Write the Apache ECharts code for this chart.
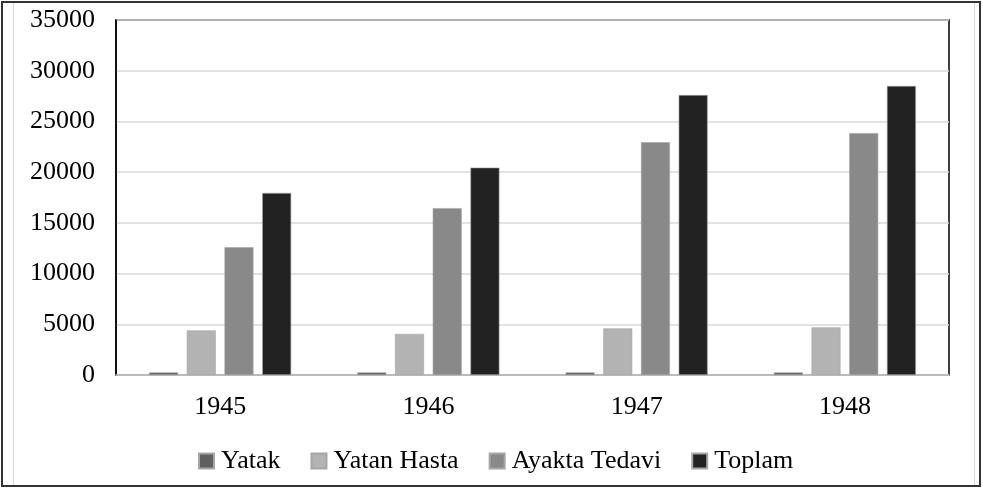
<!DOCTYPE html>
<html>
<head>
    <meta charset="utf-8">
    <title>Yatak / Hasta</title>
    <script src="https://cdn.jsdelivr.net/npm/echarts@6/dist/echarts.min.js"></script>
    <style>
        html, body { margin: 0; padding: 0; background: #fff; }
        #main { width: 983px; height: 489px; }
    </style>
</head>
<body>
<div id="main"></div>
<script>
    // veriler
    var years = ['1945', '1946', '1947', '1948'];
    var yatak = [250, 250, 250, 250];
    var yatanHasta = [4400, 4050, 4600, 4700];
    var ayaktaTedavi = [12600, 16450, 22950, 23850];
    var toplam = [17950, 20450, 27600, 28500];

    var myChart = echarts.init(document.getElementById('main'));
    var font = 'Liberation Serif, Times New Roman, serif';

    function bar(name, data, color) {
        return {
            name: name,
            type: 'bar',
            data: data,
            barWidth: 29,
            barGap: '30%',
            itemStyle: { color: color, borderColor: '#a6a6a6', borderWidth: 0.6 }
        };
    }

    var option = {
        animation: false,
        textStyle: { fontFamily: font },
        graphic: [
            { type: 'rect', shape: { x: 2, y: 2, width: 978, height: 484 }, style: { fill: 'none', stroke: '#333', lineWidth: 2 } },
            { type: 'line', shape: { x1: 13.5, y1: 3, x2: 13.5, y2: 485 }, style: { stroke: '#d9d9d9', lineWidth: 1 } },
            { type: 'line', shape: { x1: 974.5, y1: 3, x2: 974.5, y2: 485 }, style: { stroke: '#d9d9d9', lineWidth: 1 } }
        ],
        grid: {
            left: 116, right: 34, top: 20, bottom: 114,
            show: true, borderColor: '#000', borderWidth: 1.5, backgroundColor: '#fff'
        },
        legend: {
            top: 443,
            left: 193,
            itemWidth: 15, itemHeight: 15,
            itemGap: 30,
            icon: 'rect',
            textStyle: { fontFamily: font, fontSize: 26, color: '#000', padding: [0, 0, 0, 2] },
            data: ['Yatak', 'Yatan Hasta', 'Ayakta Tedavi', 'Toplam']
        },
        xAxis: {
            type: 'category',
            data: years,
            axisLine: { lineStyle: { color: '#bfbfbf', width: 1.5 } },
            axisTick: { show: false },
            axisLabel: { fontFamily: font, fontSize: 26, color: '#000', margin: 19 }
        },
        yAxis: {
            type: 'value',
            min: 0, max: 35000, interval: 5000,
            axisLine: { show: true, lineStyle: { color: '#000', width: 1.5 } },
            axisTick: { show: false },
            splitLine: { lineStyle: { color: '#d9d9d9', width: 1.5 } },
            axisLabel: {
                fontFamily: font, fontSize: 26, color: '#000', margin: 21,
                formatter: function (v) { return String(v); }
            }
        },
        series: [
            bar('Yatak', yatak, '#5f5f5f'),
            bar('Yatan Hasta', yatanHasta, '#b3b3b3'),
            bar('Ayakta Tedavi', ayaktaTedavi, '#898989'),
            bar('Toplam', toplam, '#222222')
        ]
    };
    myChart.setOption(option);
</script>
</body>
</html>
